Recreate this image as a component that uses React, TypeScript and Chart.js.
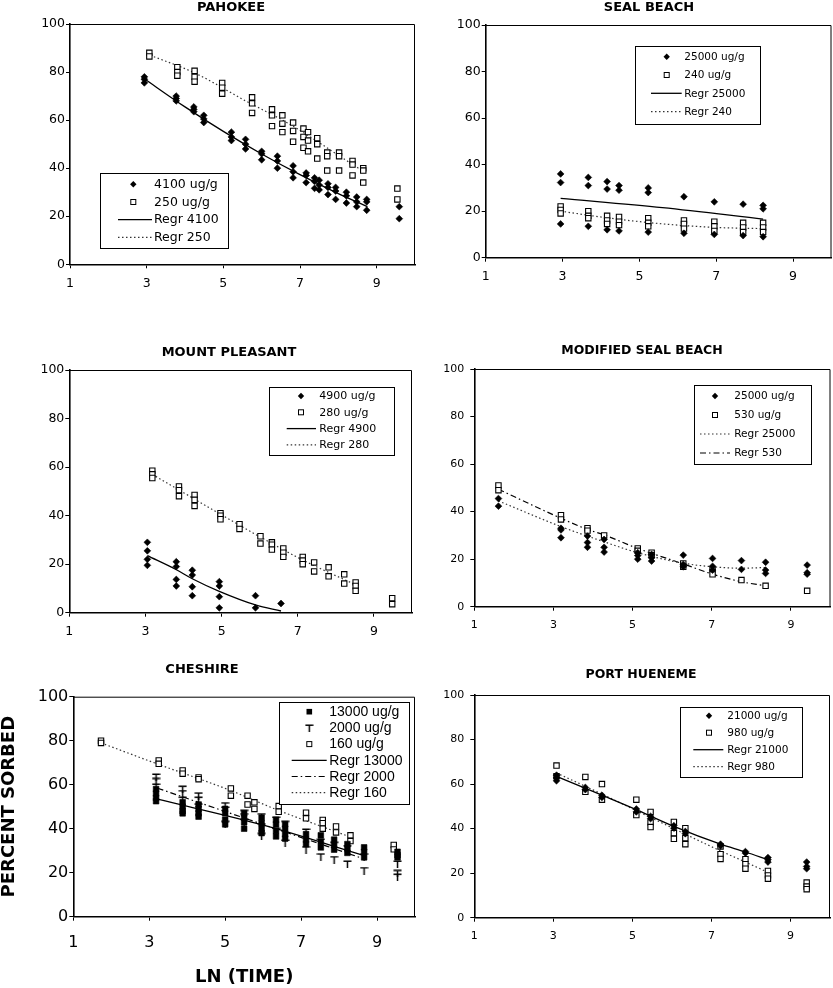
import React, { useEffect, useRef } from 'react';
import { Chart, registerables } from 'chart.js';

Chart.register(...registerables);

const FONT = '"DejaVu Sans", sans-serif';
const xTickValues = [1, 3, 5, 7, 9];

// ---------------- PAHOKEE ----------------
const pahX4100 = [2.94, 3.77, 4.23, 4.49, 5.21, 5.58, 6.0, 6.41, 6.82, 7.16, 7.38, 7.5, 7.73, 7.93, 8.21, 8.48, 8.74, 9.59];
const pahY4100 = [[78, 77, 75.5], [70, 69, 68], [65.5, 64.5, 63.5], [62, 60.5, 59], [55, 53, 51.5], [52, 50, 48], [47, 46, 43.5], [45, 43, 40], [41, 38.5, 36], [38, 37, 34], [36, 34.5, 31.6], [35, 33, 31], [33.5, 32, 29], [32, 30.5, 27], [30, 28.5, 25.5], [28, 26, 24], [27, 26, 22.5], [24, 19]];
const pahX250 = [3.07, 3.8, 4.25, 4.97, 5.75, 6.27, 6.54, 6.82, 7.09, 7.21, 7.45, 7.71, 8.02, 8.37, 8.65, 9.54];
const pahY250 = [[88, 86.5], [82, 80, 78.5], [80.5, 78, 76], [75.5, 73.5, 71], [69.5, 67, 63], [64.5, 62, 57.5], [62, 58.5, 55], [59, 55.5, 51], [56.5, 53, 48.5], [55, 51.5, 47], [52.5, 50, 44], [46.5, 45, 39], [46.5, 45, 39], [43, 41.5, 37], [40, 39, 34], [31.5, 27]];
const pahRegr4100X = [2.92, 4, 5, 6, 7, 8, 8.76];
const pahRegr4100Y = [77.4, 65.5, 55.3, 45.9, 37.3, 29.4, 24];
const pahRegr250X = [3.09, 4.27, 5.58, 6.71, 8.28, 8.72];
const pahRegr250Y = [87, 79.5, 68, 58.5, 42.5, 38];

// ---------------- SEAL BEACH ----------------
const sbX = [2.95, 3.67, 4.16, 4.47, 5.23, 6.16, 6.95, 7.7, 8.22];
const sbY25000 = [[36, 32.3, 14.5], [34.5, 31, 13.5], [32.7, 29.5, 12], [31, 29, 11.5], [30, 28, 11], [26.2, 10.5], [24, 10], [23, 9.5], [22.5, 21, 9]];
const sbY240 = [[22, 20.5, 19], [20, 18, 17], [18, 16, 14.5], [17.5, 15.5, 14], [17, 15, 13.5], [16, 14.5, 12.5], [15.5, 13.5, 11.5], [15, 13, 11], [15, 13, 11]];
const sbRegr25000X = [2.95, 5.6, 8.22];
const sbRegr25000Y = [25.5, 21.5, 16.6];
const sbRegr240X = [2.95, 4, 5, 6, 7, 8.22];
const sbRegr240Y = [20, 17.5, 15.5, 14, 13, 12.5];

// ---------------- MOUNT PLEASANT ----------------
const mpX4900 = [3.05, 3.81, 4.23, 4.94, 5.89, 6.56];
const mpY4900 = [[29, 25.5, 22, 19.5], [21, 19, 13.7, 11], [17.5, 15.5, 10.7, 7], [12.8, 11, 6.6, 2], [7, 2], [3.8]];
const mpX280 = [3.18, 3.88, 4.29, 4.97, 5.47, 6.02, 6.32, 6.62, 7.13, 7.43, 7.81, 8.22, 8.52, 9.48];
const mpY280 = [[58.5, 57, 55.5], [52, 50.5, 48], [48.5, 46.5, 44], [41, 40, 38.5], [36.5, 34.5], [31.5, 28.5], [29, 28, 26], [26.5, 24.7, 23], [23, 21.5, 20], [20.7, 17], [18.7, 15], [15.8, 12], [12.5, 11, 9], [6, 3.5]];
const mpRegr4900X = [3.05, 3.8, 4.23, 4.94, 5.89, 6.56];
const mpRegr4900Y = [23.5, 17.8, 14, 8.8, 3.2, 0.7];
const mpRegr280X = [3.18, 5, 6, 7.13, 8.52];
const mpRegr280Y = [57, 40.3, 31.3, 21.7, 11.5];

// ---------------- MODIFIED SEAL BEACH ----------------
const msbX = [1.61, 3.19, 3.86, 4.28, 5.13, 5.48, 6.28, 7.02, 7.75, 8.36, 9.41];
const msbY25000 = [[45.5, 42.3], [33, 32.3, 29], [29.7, 27, 25], [28.3, 25, 23], [22.7, 21.5, 20], [22, 20.6, 19.2], [21.7, 17.8, 16.8], [20.3, 17, 15.4], [19.4, 15.7], [18.7, 15.4, 14], [17.5, 14.3, 13.7]];
const msbY530 = [[51, 49], [38.5, 36.7], [33, 32], [30], [24.5, 23.5], [22.7, 21.7], [18.2, 16.8], [15.7, 13.6], [11.2], [8.8], [6.7]];
const msbRegr25000X = [1.61, 3.19, 4.28, 5.13, 6.28, 7.02, 7.75, 8.36];
const msbRegr25000Y = [44.5, 33.7, 27.3, 22.7, 18.3, 16.8, 16.2, 16.5];
const msbRegr530X = [1.61, 3.19, 3.86, 4.28, 5.13, 6.28, 7.02, 7.75, 8.36];
const msbRegr530Y = [49.4, 37.2, 32.5, 30.2, 24.5, 18, 13.7, 10.5, 8.8];

// ---------------- CHESHIRE ----------------
const chX = [3.18, 3.88, 4.3, 5.0, 5.5, 5.96, 6.34, 6.58, 7.13, 7.52, 7.87, 8.22, 8.66, 9.54];
const chY13000 = [[58, 56, 54, 52.5], [52, 50, 48, 47], [51, 49, 47, 45.5], [49, 47, 44, 42], [47, 45, 43, 40], [45, 42.5, 40, 38], [44, 42, 39, 36.5], [42, 40, 37.5, 35.5], [37.5, 35, 33], [37, 34, 31.5], [35, 32.5, 30.5], [33, 31, 29], [31.5, 29.5, 27], [29.5, 28, 27]];
const chY2000 = [[63.5, 61.5, 59], [58, 56, 53], [55, 53, 50], [50.5, 48.5, 42], [47, 45.5, 43], [45.5, 41, 36.5], [44, 39], [42, 33.5], [38.5, 30.5], [34, 27.3], [32.5, 26], [31, 24], [27.3, 21], [24, 19.7, 18]];
const chX160 = [1.73, 3.25, 3.88, 4.3, 5.15, 5.59, 5.77, 6.41, 7.13, 7.57, 7.92, 8.3, 9.44];
const chY160 = [[80, 79], [71, 69.5], [66.5, 65], [63.3, 62.5], [58.3, 55], [55, 51], [52, 49], [50.3, 47.7], [47.3, 44.7], [44, 42.5, 40], [41, 38.3], [37, 34.4], [32.6, 30.6]];
const chRegr13000X = [3.22, 5.99, 8.62];
const chRegr13000Y = [53.4, 41.7, 28];
const chRegr2000X = [3.22, 5.02, 8.62];
const chRegr2000Y = [58.4, 47.7, 26.5];
const chRegr160X = [1.73, 3.22, 5.11, 6.38, 8.27];
const chRegr160Y = [79, 69.4, 57.6, 48.5, 36.4];

// ---------------- PORT HUENEME ----------------
const phX = [3.08, 3.81, 4.23, 5.1, 5.46, 6.05, 6.34, 7.23, 7.86, 8.43, 9.41];
const phY21000 = [[64, 62.8, 61.5], [58.5, 57.5], [55, 54], [48.8, 47.5], [45.5, 44.5], [41.3, 40.2], [38.7, 37.7], [33, 32.3], [29.7, 29], [27, 26, 25], [25, 23, 22]];
const phY980 = [[68.3, 63.5], [63.2, 56.5], [60, 53], [53, 46.1], [47.5, 42.8, 40.7], [43, 38, 35.4], [40.2, 35.7, 33], [32, 28.5, 26.4], [26.3, 24, 22], [21, 19, 17.5], [15.8, 14, 12.8]];
const phRegr21000X = [3.08, 4.23, 5.1, 6.05, 7.23, 7.86, 8.43];
const phRegr21000Y = [63.5, 55, 48.5, 41, 33, 29.5, 26];
const phRegr980X = [3.08, 4.23, 5.46, 6.34, 7.23, 7.86, 8.43];
const phRegr980Y = [65, 55.5, 45, 37.5, 30, 25, 20.4];

// ---------------- helpers ----------------
type Kind = 'diamond' | 'square' | 'filledSquare' | 'tee';
type LineKind = 'solid' | 'dotted' | 'dashdot';

let teeCanvas: HTMLCanvasElement | null = null;
function getTee(): HTMLCanvasElement {
  if (teeCanvas) return teeCanvas;
  const c = document.createElement('canvas');
  c.width = 9;
  c.height = 8;
  const ctx = c.getContext('2d')!;
  ctx.strokeStyle = '#000';
  ctx.lineWidth = 1.5;
  ctx.beginPath();
  ctx.moveTo(0.5, 1.2);
  ctx.lineTo(8.5, 1.2);
  ctx.moveTo(4.5, 1.2);
  ctx.lineTo(4.5, 8);
  ctx.stroke();
  teeCanvas = c;
  return c;
}

function scatterSet(label: string, xs: number[], ys: number[][], kind: Kind) {
  const data = xs.flatMap((x, i) => ys[i].map((y) => ({ x, y })));
  const base: any = { label, data, kind, showLine: false, pointHoverRadius: 0 };
  if (kind === 'diamond') {
    return { ...base, pointStyle: 'rectRot', pointRadius: 3.4, backgroundColor: '#000', borderColor: '#000', borderWidth: 0.6 };
  }
  if (kind === 'square') {
    return { ...base, pointStyle: 'rect', pointRadius: 3.8, backgroundColor: '#fff', borderColor: '#000', borderWidth: 1.1 };
  }
  if (kind === 'filledSquare') {
    return { ...base, pointStyle: 'rect', pointRadius: 4, backgroundColor: '#000', borderColor: '#000', borderWidth: 0.6 };
  }
  return { ...base, pointStyle: getTee(), pointRadius: 4, backgroundColor: '#000', borderColor: '#000', borderWidth: 1 };
}

function lineSet(label: string, xs: number[], ys: number[], style: LineKind) {
  const dash = style === 'solid' ? [] : style === 'dotted' ? [1.5, 2.5] : [6, 3, 1.5, 3];
  return {
    label,
    kind: 'line',
    data: xs.map((x, i) => ({ x, y: ys[i] })),
    showLine: true,
    pointRadius: 0,
    pointHoverRadius: 0,
    borderColor: style === 'dotted' ? '#333' : '#000',
    borderWidth: style === 'solid' ? 1.3 : 1.2,
    borderDash: dash,
    tension: 0.4,
    cubicInterpolationMode: 'monotone',
    fill: false,
  };
}

function drawSymbol(ctx: CanvasRenderingContext2D, kind: string, x: number, y: number) {
  ctx.save();
  ctx.fillStyle = '#000';
  ctx.strokeStyle = '#000';
  if (kind === 'diamond') {
    ctx.beginPath();
    ctx.moveTo(x, y - 3.2);
    ctx.lineTo(x + 3.2, y);
    ctx.lineTo(x, y + 3.2);
    ctx.lineTo(x - 3.2, y);
    ctx.closePath();
    ctx.fill();
  } else if (kind === 'square') {
    ctx.fillStyle = '#fff';
    ctx.lineWidth = 1;
    ctx.fillRect(x - 2.5, y - 2.5, 5, 5);
    ctx.strokeRect(x - 2.5, y - 2.5, 5, 5);
  } else if (kind === 'filledSquare') {
    ctx.fillRect(x - 2.8, y - 2.8, 5.6, 5.6);
  } else if (kind === 'tee') {
    const t = getTee();
    ctx.drawImage(t, x - t.width / 2, y - t.height / 2);
  }
  ctx.restore();
}

const titlePlugin = {
  id: 'panelTitle',
  afterDraw(chart: any, _args: any, opts: any) {
    if (!opts || !opts.text) return;
    const ctx = chart.ctx;
    ctx.save();
    ctx.font = opts.font;
    ctx.fillStyle = '#000';
    ctx.textAlign = 'center';
    ctx.textBaseline = 'middle';
    ctx.fillText(opts.text, opts.x, opts.y);
    ctx.restore();
  },
};

const framePlugin = {
  id: 'plotFrame',
  beforeDatasetsDraw(chart: any) {
    const { ctx, chartArea } = chart;
    const { left, right, top, bottom } = chartArea;
    ctx.save();
    ctx.strokeStyle = '#000';
    ctx.lineWidth = 1;
    ctx.beginPath();
    ctx.moveTo(left, top + 0.5);
    ctx.lineTo(right - 0.5, top + 0.5);
    ctx.lineTo(right - 0.5, bottom);
    ctx.stroke();
    ctx.restore();
  },
};

const boxLegendPlugin = {
  id: 'boxLegend',
  afterDraw(chart: any, _args: any, o: any) {
    if (!o || !o.box) return;
    const ctx: CanvasRenderingContext2D = chart.ctx;
    const [x1, y1, x2, y2] = o.box;
    ctx.save();
    ctx.fillStyle = '#fff';
    ctx.fillRect(x1, y1, x2 - x1, y2 - y1);
    ctx.strokeStyle = '#000';
    ctx.lineWidth = 1;
    ctx.strokeRect(Math.round(x1) + 0.5, Math.round(y1) + 0.5, Math.round(x2 - x1), Math.round(y2 - y1));
    ctx.font = o.font;
    ctx.textAlign = 'left';
    ctx.textBaseline = 'middle';
    chart.data.datasets.forEach((ds: any, i: number) => {
      const ry = o.row0 + i * o.gap;
      if (ds.kind === 'line') {
        ctx.save();
        ctx.strokeStyle = ds.borderColor;
        ctx.lineWidth = ds.borderWidth;
        ctx.setLineDash(ds.borderDash || []);
        ctx.beginPath();
        ctx.moveTo(o.lineX1, ry);
        ctx.lineTo(o.lineX2, ry);
        ctx.stroke();
        ctx.restore();
      } else {
        drawSymbol(ctx, ds.kind, o.symX, ry);
      }
      ctx.fillStyle = '#000';
      ctx.fillText(ds.label, o.textX, ry + 0.5);
    });
    ctx.restore();
  },
};

type Legend = { box: number[]; row0: number; gap: number; symX: number; lineX1: number; lineX2: number; textX: number; font: string };
type Panel = {
  title: string;
  titleX: number;
  titleY: number;
  titleFont: string;
  box: number[]; // canvas left, top, width, height (page coords)
  plot: number[]; // plot left, right, top, bottom (page coords)
  tickSize: number;
  xPad: number;
  yPad: number;
  legend: Legend;
  datasets: any[];
  axisTitles?: boolean;
};

const panels: Panel[] = [
  {
    title: 'PAHOKEE', titleX: 231, titleY: 7.5, titleFont: `bold 13px ${FONT}`,
    box: [0, 0, 418, 300], plot: [70, 415, 24, 264.3], tickSize: 12.5, xPad: 8, yPad: 1,
    legend: { box: [100, 173.3, 228.3, 248.3], row0: 184.3, gap: 17.7, symX: 133.3, lineX1: 118, lineX2: 152, textX: 154, font: `12.5px ${FONT}` },
    datasets: [
      scatterSet('4100 ug/g', pahX4100, pahY4100, 'diamond'),
      scatterSet('250 ug/g', pahX250, pahY250, 'square'),
      lineSet('Regr 4100', pahRegr4100X, pahRegr4100Y, 'solid'),
      lineSet('Regr 250', pahRegr250X, pahRegr250Y, 'dotted'),
    ],
  },
  {
    title: 'SEAL BEACH', titleX: 649, titleY: 7.5, titleFont: `bold 13px ${FONT}`,
    box: [418, 0, 415, 300], plot: [485.7, 831.5, 25, 257.7], tickSize: 12.5, xPad: 8, yPad: 1,
    legend: { box: [635, 45.7, 760, 123.3], row0: 56.7, gap: 18.3, symX: 666.7, lineX1: 651, lineX2: 681.7, textX: 684.3, font: `10.5px ${FONT}` },
    datasets: [
      scatterSet('25000 ug/g', sbX, sbY25000, 'diamond'),
      scatterSet('240 ug/g', sbX, sbY240, 'square'),
      lineSet('Regr 25000', sbRegr25000X, sbRegr25000Y, 'solid'),
      lineSet('Regr 240', sbRegr240X, sbRegr240Y, 'dotted'),
    ],
  },
  {
    title: 'MOUNT PLEASANT', titleX: 229, titleY: 352.7, titleFont: `bold 13px ${FONT}`,
    box: [0, 320, 418, 335], plot: [69.3, 412, 370, 612.7], tickSize: 12.5, xPad: 8, yPad: 1,
    legend: { box: [269.3, 386.7, 394.3, 455], row0: 396, gap: 16.3, symX: 301, lineX1: 286.7, lineX2: 316, textX: 319.3, font: `11px ${FONT}` },
    datasets: [
      scatterSet('4900 ug/g', mpX4900, mpY4900, 'diamond'),
      scatterSet('280 ug/g', mpX280, mpY280, 'square'),
      lineSet('Regr 4900', mpRegr4900X, mpRegr4900Y, 'solid'),
      lineSet('Regr 280', mpRegr280X, mpRegr280Y, 'dotted'),
    ],
  },
  {
    title: 'MODIFIED SEAL BEACH', titleX: 642, titleY: 350.7, titleFont: `bold 12.5px ${FONT}`,
    box: [418, 320, 415, 335], plot: [474.3, 830.5, 369, 606.7], tickSize: 11, xPad: 8, yPad: 6,
    legend: { box: [694.3, 385, 811, 464], row0: 396, gap: 19, symX: 715, lineX1: 700, lineX2: 730, textX: 734.3, font: `10.5px ${FONT}` },
    datasets: [
      scatterSet('25000 ug/g', msbX, msbY25000, 'diamond'),
      scatterSet('530 ug/g', msbX, msbY530, 'square'),
      lineSet('Regr 25000', msbRegr25000X, msbRegr25000Y, 'dotted'),
      lineSet('Regr 530', msbRegr530X, msbRegr530Y, 'dashdot'),
    ],
  },
  {
    title: 'CHESHIRE', titleX: 202, titleY: 669.3, titleFont: `bold 13px ${FONT}`,
    box: [0, 655, 418, 333], plot: [73.3, 415, 696.7, 916.7], tickSize: 16, xPad: 13, yPad: 1,
    legend: { box: [279.3, 701.7, 409.3, 804], row0: 711.7, gap: 16.2, symX: 309.3, lineX1: 291.7, lineX2: 326.7, textX: 329.3, font: `14px "Liberation Sans", Arial, sans-serif` },
    axisTitles: true,
    datasets: [
      scatterSet('13000 ug/g', chX, chY13000, 'filledSquare'),
      scatterSet('2000 ug/g', chX, chY2000, 'tee'),
      scatterSet('160 ug/g', chX160, chY160, 'square'),
      lineSet('Regr 13000', chRegr13000X, chRegr13000Y, 'solid'),
      lineSet('Regr 2000', chRegr2000X, chRegr2000Y, 'dashdot'),
      lineSet('Regr 160', chRegr160X, chRegr160Y, 'dotted'),
    ],
  },
  {
    title: 'PORT HUENEME', titleX: 641, titleY: 675, titleFont: `bold 12.5px ${FONT}`,
    box: [418, 655, 415, 333], plot: [474.3, 830, 695, 917.7], tickSize: 11, xPad: 8, yPad: 6,
    legend: { box: [680, 706.7, 802.3, 776.7], row0: 715.7, gap: 17, symX: 709, lineX1: 693.3, lineX2: 723.3, textX: 727.3, font: `10.5px ${FONT}` },
    datasets: [
      scatterSet('21000 ug/g', phX, phY21000, 'diamond'),
      scatterSet('980 ug/g', phX, phY980, 'square'),
      lineSet('Regr 21000', phRegr21000X, phRegr21000Y, 'solid'),
      lineSet('Regr 980', phRegr980X, phRegr980Y, 'dotted'),
    ],
  },
];

function buildConfig(p: Panel): any {
  const [bx, by, bw, bh] = p.box;
  const [pl, pr, pt, pb] = p.plot;
  const yAxisW = pl - bx;
  const padRight = bx + bw - pr;
  const padTop = pt - by;
  const xAxisH = by + bh - pb;
  const tickFont = { family: FONT, size: p.tickSize };
  const L = p.legend;
  const legendOpts = {
    box: [L.box[0] - bx, L.box[1] - by, L.box[2] - bx, L.box[3] - by],
    row0: L.row0 - by,
    gap: L.gap,
    symX: L.symX - bx,
    lineX1: L.lineX1 - bx,
    lineX2: L.lineX2 - bx,
    textX: L.textX - bx,
    font: L.font,
  };
  return {
    type: 'scatter',
    data: { datasets: p.datasets },
    plugins: [framePlugin, titlePlugin, boxLegendPlugin],
    options: {
      responsive: false,
      animation: false,
      devicePixelRatio: 1,
      events: [],
      layout: { autoPadding: false, padding: { left: 0, top: padTop, right: padRight, bottom: 0 } },
      plugins: {
        legend: { display: false },
        tooltip: { enabled: false },
        panelTitle: { text: p.title, x: p.titleX - bx, y: p.titleY - by, font: p.titleFont },
        boxLegend: legendOpts,
      },
      scales: {
        x: {
          type: 'linear',
          min: 1,
          max: 10,
          afterBuildTicks: (s: any) => {
            s.ticks = xTickValues.map((v) => ({ value: v }));
          },
          afterFit: (s: any) => {
            s.height = xAxisH;
          },
          ticks: { font: tickFont, color: '#000', padding: p.xPad, autoSkip: false, maxRotation: 0 },
          grid: { drawOnChartArea: false, drawTicks: true, tickLength: 4, color: '#000' },
          border: { display: true, color: '#000', width: 1.6 },
          title: p.axisTitles
            ? { display: true, text: 'LN (TIME)', color: '#000', font: { family: FONT, size: 18, weight: 'bold', lineHeight: 1 }, padding: { top: 0, bottom: 2 } }
            : { display: false },
        },
        y: {
          type: 'linear',
          min: 0,
          max: 100,
          afterFit: (s: any) => {
            s.width = yAxisW;
          },
          ticks: { stepSize: 20, font: tickFont, color: '#000', padding: p.yPad },
          grid: { drawOnChartArea: false, drawTicks: true, tickLength: 4, color: '#000' },
          border: { display: true, color: '#000', width: 1.6 },
          title: p.axisTitles
            ? { display: true, text: 'PERCENT SORBED', color: '#000', font: { family: FONT, size: 18, weight: 'bold', lineHeight: 1 }, padding: { top: 0, bottom: 0 } }
            : { display: false },
        },
      },
    },
  };
}

function PanelChart({ p }: { p: Panel }) {
  const ref = useRef<HTMLCanvasElement>(null);
  useEffect(() => {
    if (!ref.current) return;
    const chart = new Chart(ref.current, buildConfig(p));
    return () => chart.destroy();
  }, [p]);
  const [bx, by, bw, bh] = p.box;
  return (
    <canvas
      ref={ref}
      width={bw}
      height={bh}
      style={{ position: 'absolute', left: bx, top: by, width: bw, height: bh }}
    />
  );
}

export default function App() {
  return (
    <div style={{ position: 'absolute', left: 0, top: 0, width: 833, height: 988, background: '#fff' }}>
      {panels.map((p, i) => (
        <PanelChart key={i} p={p} />
      ))}
    </div>
  );
}
